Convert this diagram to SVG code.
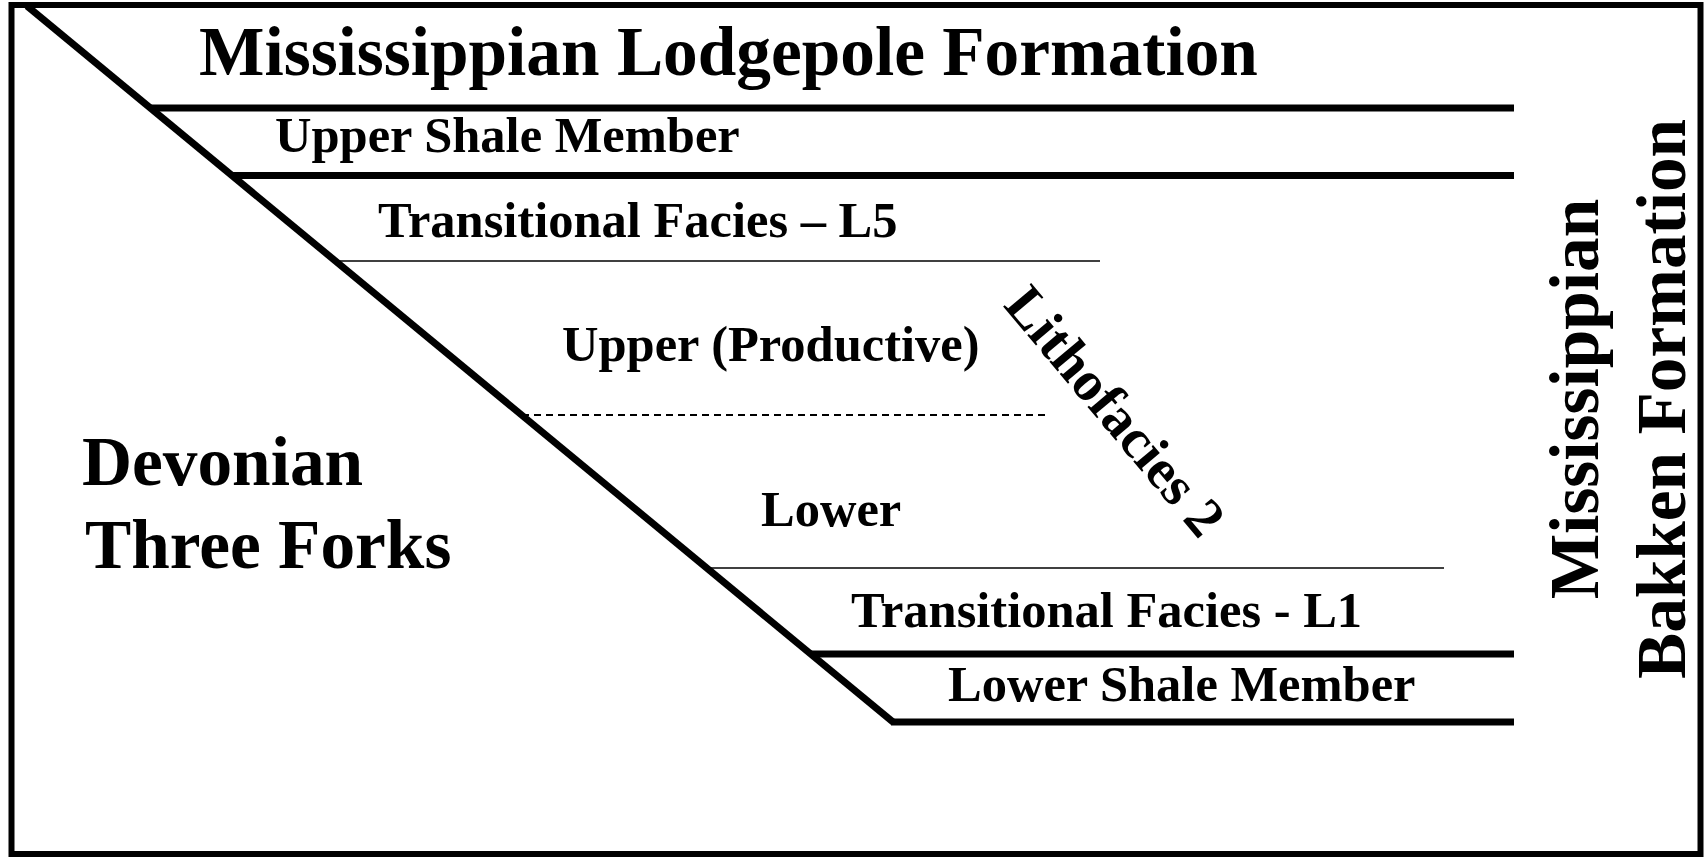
<svg xmlns="http://www.w3.org/2000/svg" width="1705" height="857" viewBox="0 0 1705 857">
<style>
.t{font-family:"Liberation Serif","Times New Roman",serif;font-weight:bold;fill:#000}
.big{font-size:69.3px}
.med{font-size:50.5px}
.lith{font-size:56px}
.thick{stroke:#000;stroke-width:7;fill:none}
.thin{stroke:#000;stroke-width:1.5;fill:none}
.dash{stroke:#000;stroke-width:2;stroke-dasharray:7 5;fill:none}
</style>
<rect x="0" y="0" width="1705" height="857" fill="#fff"/>
<rect id="frame" x="11.5" y="5" width="1689" height="849" fill="none" stroke="#000" stroke-width="6"/>
<g id="connectors">
<line class="thick" x1="27" y1="6" x2="893" y2="722"/>
<line class="thick" x1="150" y1="108" x2="1514" y2="108"/>
<line class="thick" x1="232" y1="175.5" x2="1514" y2="175.5"/>
<line class="thin" x1="335" y1="261" x2="1100" y2="261"/>
<line class="dash" x1="522" y1="415" x2="1048" y2="415"/>
<line class="thin" x1="707" y1="568" x2="1444" y2="568"/>
<line class="thick" x1="811" y1="654" x2="1514" y2="654"/>
<line class="thick" x1="891" y1="722" x2="1514" y2="722"/>
</g>
<g id="lodgepole"><text class="t big" x="199" y="75">Mississippian Lodgepole Formation</text></g>
<g id="upper-shale"><text class="t med" x="275" y="152">Upper Shale Member</text></g>
<g id="l5"><text class="t med" x="378" y="237">Transitional Facies – L5</text></g>
<g id="upper-productive"><text class="t med" x="562" y="361">Upper (Productive)</text></g>
<g id="lower"><text class="t med" x="761" y="526">Lower</text></g>
<g id="l1"><text class="t med" x="851" y="627">Transitional Facies - L1</text></g>
<g id="lower-shale"><text class="t med" x="948" y="701">Lower Shale Member</text></g>
<g id="three-forks"><text class="t big" x="82" y="485">Devonian</text><text class="t big" x="85" y="568">Three Forks</text></g>
<g id="lithofacies"><text class="t lith" text-anchor="middle" transform="translate(1101,423) rotate(50)">Lithofacies 2</text></g>
<g id="bakken">
<text class="t big" text-anchor="middle" transform="translate(1598,399) rotate(-90)">Mississippian</text>
<text class="t big" text-anchor="middle" transform="translate(1685,399) rotate(-90)">Bakken Formation</text>
</g>
</svg>
